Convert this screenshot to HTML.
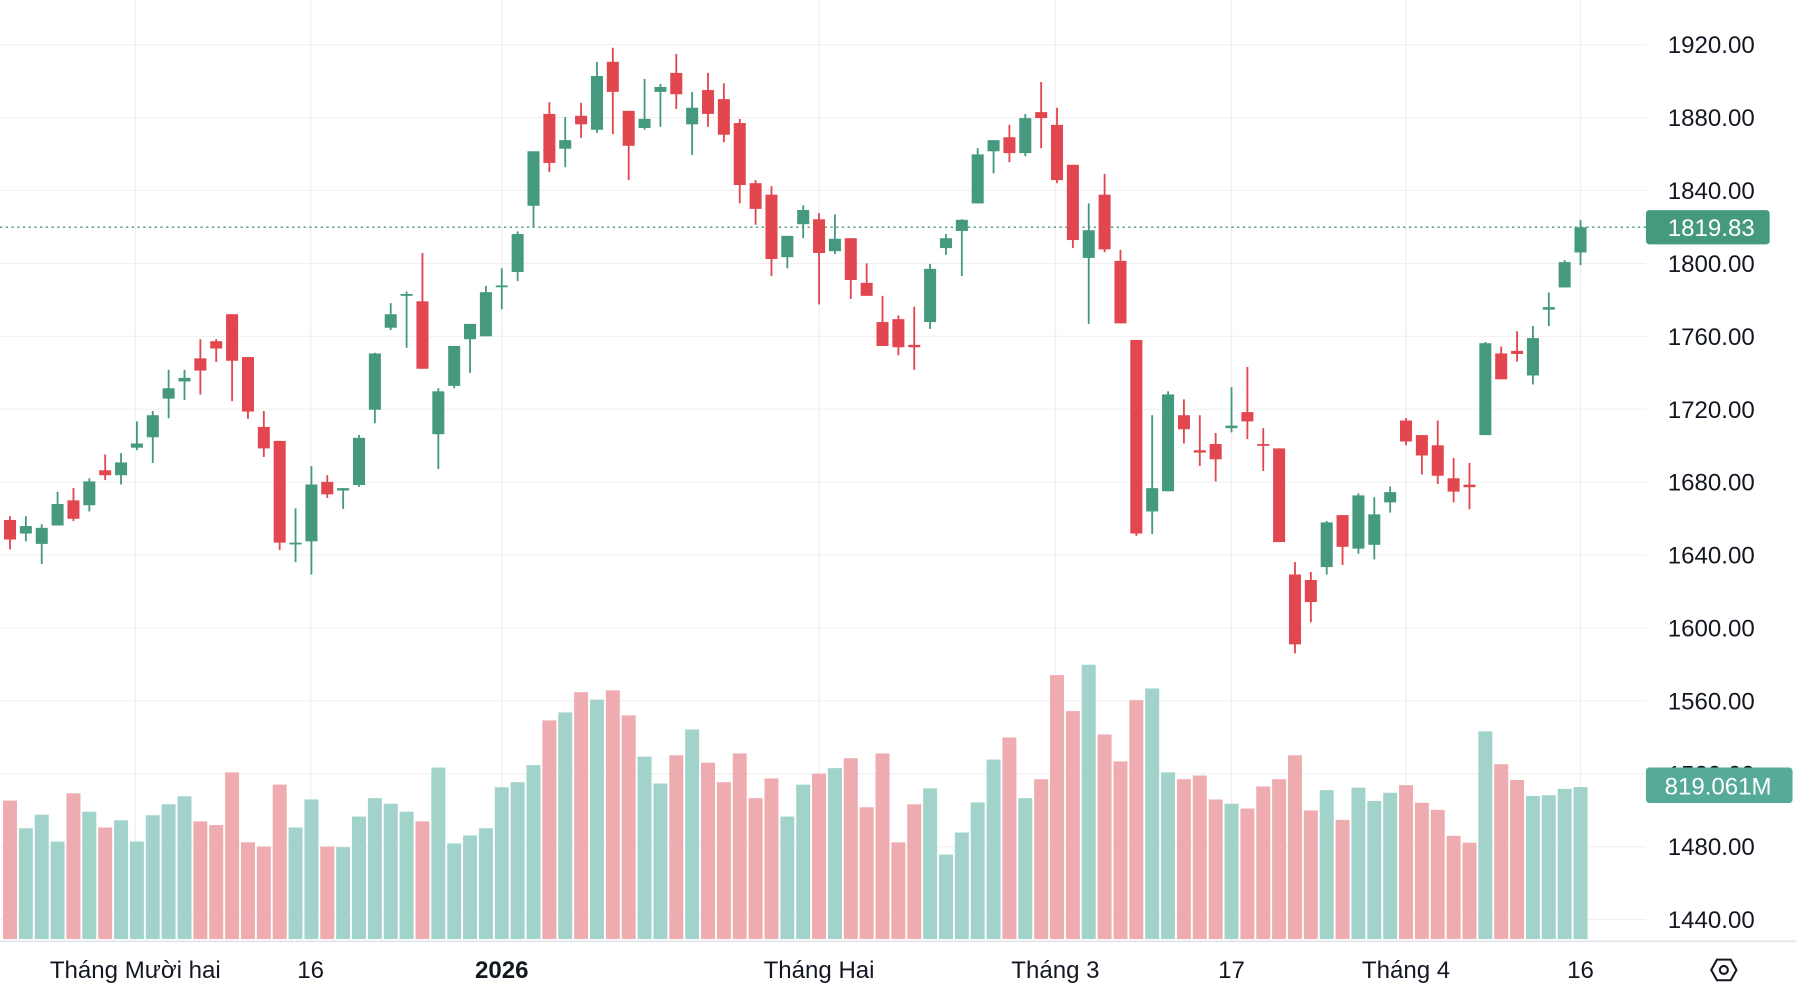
<!DOCTYPE html>
<html><head><meta charset="utf-8">
<style>
html,body{margin:0;padding:0;background:#fff;}
svg{display:block;font-family:"Liberation Sans",Arial,sans-serif;}
</style></head>
<body>
<svg id="chart" width="1796" height="994" viewBox="0 0 1568 868" preserveAspectRatio="none" xmlns="http://www.w3.org/2000/svg">
<g id="grid"></g>
<g id="vol"></g>
<g id="candles"></g>
<g id="yaxis"></g>
<g id="xaxis"></g>
</svg>
<script>
const opens=[1659.2,1651.8,1646.1,1656.2,1670.0,1667.3,1686.5,1683.8,1698.9,1704.6,1725.8,1735.2,1747.9,1757.3,1772.1,1748.6,1710.3,1702.6,1645.8,1647.5,1680.1,1675.4,1678.4,1719.7,1764.7,1782.2,1779.2,1706.3,1732.8,1758.4,1760.0,1786.9,1795.3,1831.6,1882.0,1862.9,1881.0,1873.3,1910.6,1883.7,1874.3,1894.1,1904.5,1876.3,1895.1,1890.1,1877.0,1844.0,1837.7,1803.4,1821.5,1824.2,1806.7,1813.8,1789.3,1767.8,1769.4,1755.3,1767.8,1808.4,1817.8,1832.9,1861.5,1869.2,1860.5,1883.0,1876.0,1854.1,1803.0,1837.7,1801.4,1758.0,1663.9,1675.0,1716.7,1697.5,1700.9,1709.6,1718.4,1700.9,1698.5,1629.3,1626.3,1633.4,1661.9,1643.5,1645.6,1668.9,1713.8,1705.8,1700.2,1682.1,1678.6,1705.8,1750.6,1752.0,1738.5,1774.6,1786.8,1806.0];
const highs=[1661.3,1661.3,1656.9,1674.7,1676.7,1682.1,1695.2,1695.9,1713.3,1719.0,1741.6,1741.6,1758.4,1758.4,1772.1,1748.6,1719.0,1702.6,1665.6,1688.8,1683.8,1676.7,1705.9,1751.0,1778.2,1784.6,1805.7,1731.5,1754.7,1766.8,1787.6,1797.3,1817.5,1861.5,1888.4,1880.3,1888.1,1910.6,1918.3,1883.7,1901.2,1898.5,1914.9,1894.1,1904.5,1898.8,1879.3,1845.7,1842.4,1815.1,1831.9,1827.6,1826.9,1813.8,1800.0,1782.2,1771.5,1776.2,1799.7,1816.1,1824.2,1863.2,1867.6,1876.0,1882.0,1899.5,1885.4,1854.1,1832.9,1849.1,1807.4,1758.0,1716.7,1729.8,1725.4,1716.7,1706.9,1732.1,1743.2,1709.6,1698.5,1636.1,1630.7,1658.6,1661.9,1673.8,1671.7,1677.6,1715.2,1705.8,1713.8,1693.2,1690.5,1756.9,1754.4,1762.8,1765.6,1784.0,1801.8,1823.7];
const lows=[1643.1,1647.5,1635.0,1656.2,1658.6,1663.9,1681.1,1678.7,1697.5,1690.5,1715.0,1725.1,1728.1,1745.9,1724.4,1714.7,1693.8,1642.8,1636.1,1629.3,1671.3,1665.3,1677.4,1712.3,1763.4,1753.7,1742.2,1687.1,1731.5,1739.9,1760.0,1774.8,1790.3,1819.8,1850.1,1852.8,1868.9,1871.6,1870.9,1845.7,1873.3,1874.9,1884.7,1859.5,1874.9,1866.5,1832.9,1821.2,1793.0,1797.3,1813.8,1777.5,1805.1,1780.5,1782.2,1754.7,1749.6,1741.6,1764.1,1804.7,1793.0,1832.9,1849.4,1855.5,1858.8,1863.2,1844.0,1808.4,1766.8,1806.1,1767.1,1650.5,1651.5,1675.0,1701.2,1688.8,1680.4,1707.3,1703.6,1686.1,1647.1,1586.0,1603.1,1629.3,1634.5,1640.7,1637.6,1663.3,1700.2,1684.2,1679.0,1668.9,1665.1,1705.8,1736.4,1746.1,1733.6,1765.6,1786.8,1799.0];
const closes=[1648.5,1655.9,1654.9,1668.0,1659.9,1680.4,1683.8,1690.8,1701.2,1716.7,1731.5,1737.2,1741.2,1753.3,1746.6,1718.7,1698.5,1646.8,1646.8,1678.7,1673.3,1676.7,1704.3,1750.6,1772.1,1783.2,1742.2,1729.8,1754.7,1766.8,1784.2,1787.9,1816.1,1861.5,1855.1,1867.6,1876.3,1902.8,1894.1,1864.5,1879.3,1896.8,1892.8,1885.4,1882.0,1870.6,1843.0,1829.9,1802.4,1815.1,1829.3,1805.7,1813.5,1790.9,1782.2,1754.7,1754.0,1754.0,1797.0,1813.8,1823.9,1859.8,1867.6,1860.5,1879.7,1879.7,1845.7,1812.8,1818.2,1807.7,1767.1,1651.8,1676.7,1728.1,1709.0,1696.2,1692.5,1711.0,1713.3,1700.2,1647.1,1591.0,1614.2,1657.9,1644.5,1672.7,1662.3,1674.5,1702.3,1694.6,1683.5,1674.8,1677.2,1756.2,1736.4,1750.3,1759.0,1776.0,1800.7,1819.83];
const volumes=[746,597,670,525,785,686,601,640,525,667,726,769,634,614,898,521,498,832,601,752,498,495,660,759,729,686,634,924,515,558,597,818,845,937,1178,1221,1330,1290,1340,1205,983,838,990,1129,950,845,1000,759,865,660,832,891,921,974,710,1000,521,726,812,455,574,736,967,1086,759,861,1422,1228,1478,1102,957,1287,1350,898,861,881,752,729,703,822,861,990,693,802,642,816,744,788,829,734,696,556,519,1119,942,857,771,775,809,819.061];
const priceTicks=[1920,1880,1840,1800,1760,1720,1680,1640,1600,1560,1520,1480,1440];
const timeLabels=["Tháng Mười hai","16","2026","Tháng Hai","Tháng 3","17","Tháng 4","16"];
const timeLabelIdx=[7.9,18.95,31,51,65.9,77,88,99];
const lastPrice=1819.83;
const lastVolumeLabel="819.061M";

const NS="http://www.w3.org/2000/svg";
const UP="#44997f",DN="#e2464f",UPV="#a2d3ca",DNV="#eeabb0";
const PW=1437;
const FS=21;
function yP(p){return 39+(1920-p)*764/480;}
function xI(i){return 8.73+i*13.85;}
function yV(v){return 820-v/6.17;}
function mk(tag,attrs,parent){const e=document.createElementNS(NS,tag);for(const k in attrs)e.setAttribute(k,attrs[k]);parent.appendChild(e);return e;}
const grid=document.getElementById('grid'),vol=document.getElementById('vol'),cg=document.getElementById('candles'),ya=document.getElementById('yaxis'),xa=document.getElementById('xaxis');

priceTicks.forEach(p=>{
  const l=mk('line',{x1:0,x2:PW,y1:yP(p),y2:yP(p),stroke:'#f0f0f2','stroke-width':1},grid);
  
  
  const t=mk('text',{x:1494,y:yP(p)+7.5,'text-anchor':'middle','font-size':FS,fill:'#131722'},ya);
  t.textContent=p.toFixed(2);
  
  
});
timeLabelIdx.forEach((ix,k)=>{
  const x=xI(ix);
  const l=mk('line',{x1:x,x2:x,y1:0,y2:822,stroke:'#f0f0f2','stroke-width':1.2},grid);
  
  
  const t=mk('text',{x:x,y:854,'text-anchor':'middle','font-size':FS,fill:'#131722','font-weight':timeLabels[k]==='2026'?'bold':'normal'},xa);
  t.textContent=timeLabels[k];
  
  
});
const ax=mk('line',{x1:0,x2:1568,y1:822,y2:822,stroke:'#e0e3eb','stroke-width':1.5},xa);



volumes.forEach((v,i)=>{
  const up=closes[i]>=opens[i];
  const r=mk('rect',{x:xI(i)-6.1,y:yV(v),width:12.2,height:820-yV(v),fill:up?UPV:DNV},vol);
  
  
});
opens.forEach((o,i)=>{
  const c=closes[i],up=c>=o,col=up?UP:DN,x=xI(i);
  const g=mk('g',{},cg);
  
  
  mk('line',{x1:x,x2:x,y1:yP(highs[i]),y2:yP(lows[i]),stroke:col,'stroke-width':1.6},g);
  const top=yP(Math.max(o,c)),bot=yP(Math.min(o,c));
  mk('rect',{x:x-5.25,y:top,width:10.5,height:Math.max(1.6,bot-top),fill:col},g);
});
const lp=mk('line',{x1:0,x2:PW,y1:yP(lastPrice),y2:yP(lastPrice),stroke:UP,'stroke-width':1.2,'stroke-dasharray':'2 3'},grid);


const pb=mk('rect',{x:1437,y:yP(lastPrice)-15,width:108,height:30,rx:3,fill:UP},ya);


const pt=mk('text',{x:1494,y:yP(lastPrice)+7.5,'text-anchor':'middle','font-size':FS,fill:'#fff'},ya);
pt.textContent=lastPrice.toFixed(2);


const vb=mk('rect',{x:1437,y:yV(volumes[volumes.length-1])-17,width:128,height:31,rx:3,fill:'#56ab98'},ya);


const vt=mk('text',{x:1500,y:yV(volumes[volumes.length-1])+6.5,'text-anchor':'middle','font-size':FS,fill:'#fff'},ya);
vt.textContent=lastVolumeLabel;


const ic=mk('g',{},xa);


mk('polygon',{points:'1494,847 1499,838 1511,838 1516,847 1511,856 1499,856',fill:'none',stroke:'#131722','stroke-width':1.8},ic);
mk('circle',{cx:1505,cy:847,r:3.5,fill:'none',stroke:'#131722','stroke-width':1.8},ic);
</script>
</body></html>
